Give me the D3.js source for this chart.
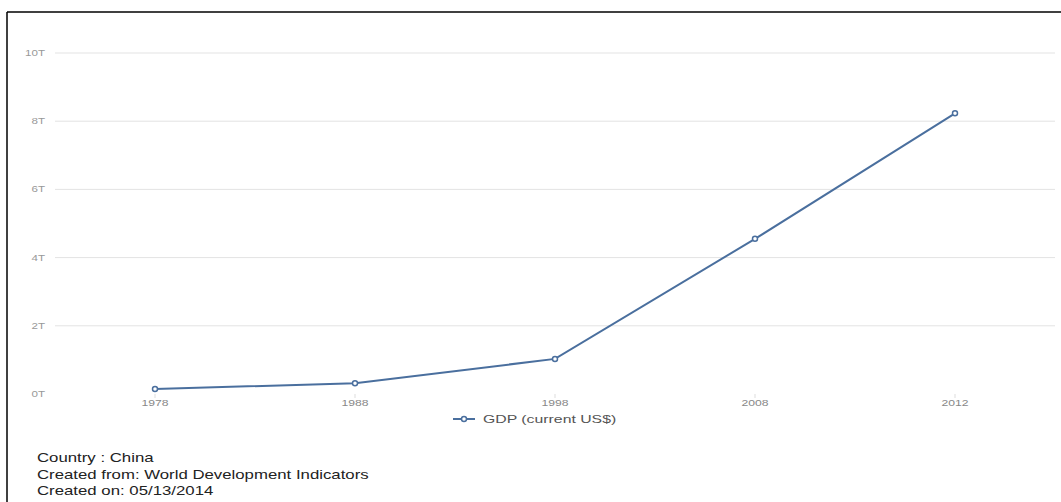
<!DOCTYPE html>
<html><head><meta charset="utf-8">
<script src="https://cdn.jsdelivr.net/npm/d3@7"></script>
<style>body{margin:0;background:#fff;}svg{display:block;font-family:"Liberation Sans",Arial,sans-serif;}</style>
</head><body>
<svg id="c" width="1061" height="502"></svg>
<script>
const years = ["1978","1988","1998","2008","2012"];
const gdp = [0.149, 0.312, 1.03, 4.55, 8.23]; // trillions US$
const yTicks = [0,2,4,6,8,10];
const yTickLabels = ["0T","2T","4T","6T","8T","10T"];
const seriesName = "GDP (current US$)";
const footer = ["Country : China","Created from: World Development Indicators","Created on: 05/13/2014"];

const SX = 1.4; // horizontal text stretch seen in reference
const svg = d3.select("#c");
const color = "#4a6f9e";
// frame
svg.append("line").attr("x1",7).attr("x2",1061).attr("y1",12).attr("y2",12).attr("stroke","#000").attr("stroke-width",1.5);
svg.append("line").attr("x1",7).attr("x2",7).attr("y1",12).attr("y2",502).attr("stroke","#000").attr("stroke-width",1.5);

const x = d3.scalePoint().domain(years).range([55,1055]).padding(0.5);
const y = d3.scaleLinear().domain([0,10]).range([394,53]);

// grid
svg.append("g").selectAll("line").data(yTicks.filter(d=>d>0)).join("line")
  .attr("x1",55).attr("x2",1055).attr("y1",d=>y(d)).attr("y2",d=>y(d))
  .attr("stroke","#e3e3e3").attr("stroke-width",1);
svg.append("g").selectAll("text").data(yTicks).join("text")
  .attr("transform",d=>`translate(45,${y(d)+3}) scale(${SX},1)`).attr("text-anchor","end")
  .attr("font-size",8.3).attr("fill","#999").text((d,i)=>yTickLabels[i]);

// x axis labels
svg.append("g").selectAll("text").data(years).join("text")
  .attr("transform",d=>`translate(${x(d)},406) scale(${SX},1)`).attr("text-anchor","middle")
  .attr("font-size",8.7).attr("fill","#888").text(d=>d);
svg.append("g").selectAll("line").data(years).join("line")
  .attr("x1",d=>x(d)).attr("x2",d=>x(d)).attr("y1",394).attr("y2",398)
  .attr("stroke","#ddd");

// line
const data = years.map((yr,i)=>({yr,v:gdp[i]}));
svg.append("path").datum(data)
  .attr("d",d3.line().x(d=>x(d.yr)).y(d=>y(d.v)))
  .attr("fill","none").attr("stroke",color).attr("stroke-width",2);
svg.append("g").selectAll("circle").data(data).join("circle")
  .attr("cx",d=>x(d.yr)).attr("cy",d=>y(d.v)).attr("r",2.5)
  .attr("fill","#fff").attr("stroke",color).attr("stroke-width",1.5);

// legend
const lg = svg.append("g").attr("transform","translate(453,419)");
lg.append("line").attr("x1",0).attr("x2",22).attr("y1",0).attr("y2",0).attr("stroke",color).attr("stroke-width",2);
lg.append("circle").attr("cx",11).attr("cy",0).attr("r",2.5).attr("fill","#fff").attr("stroke",color).attr("stroke-width",1.5);
lg.append("text").attr("transform",`translate(30,4) scale(${SX},1)`).attr("font-size",11.3).attr("fill","#555").text(seriesName);

// footer
svg.append("g").selectAll("text").data(footer).join("text")
  .attr("transform",(d,i)=>`translate(37,${462+i*16.5}) scale(${SX},1)`).attr("font-size",12).attr("fill","#222").text(d=>d);
</script>
</body></html>
